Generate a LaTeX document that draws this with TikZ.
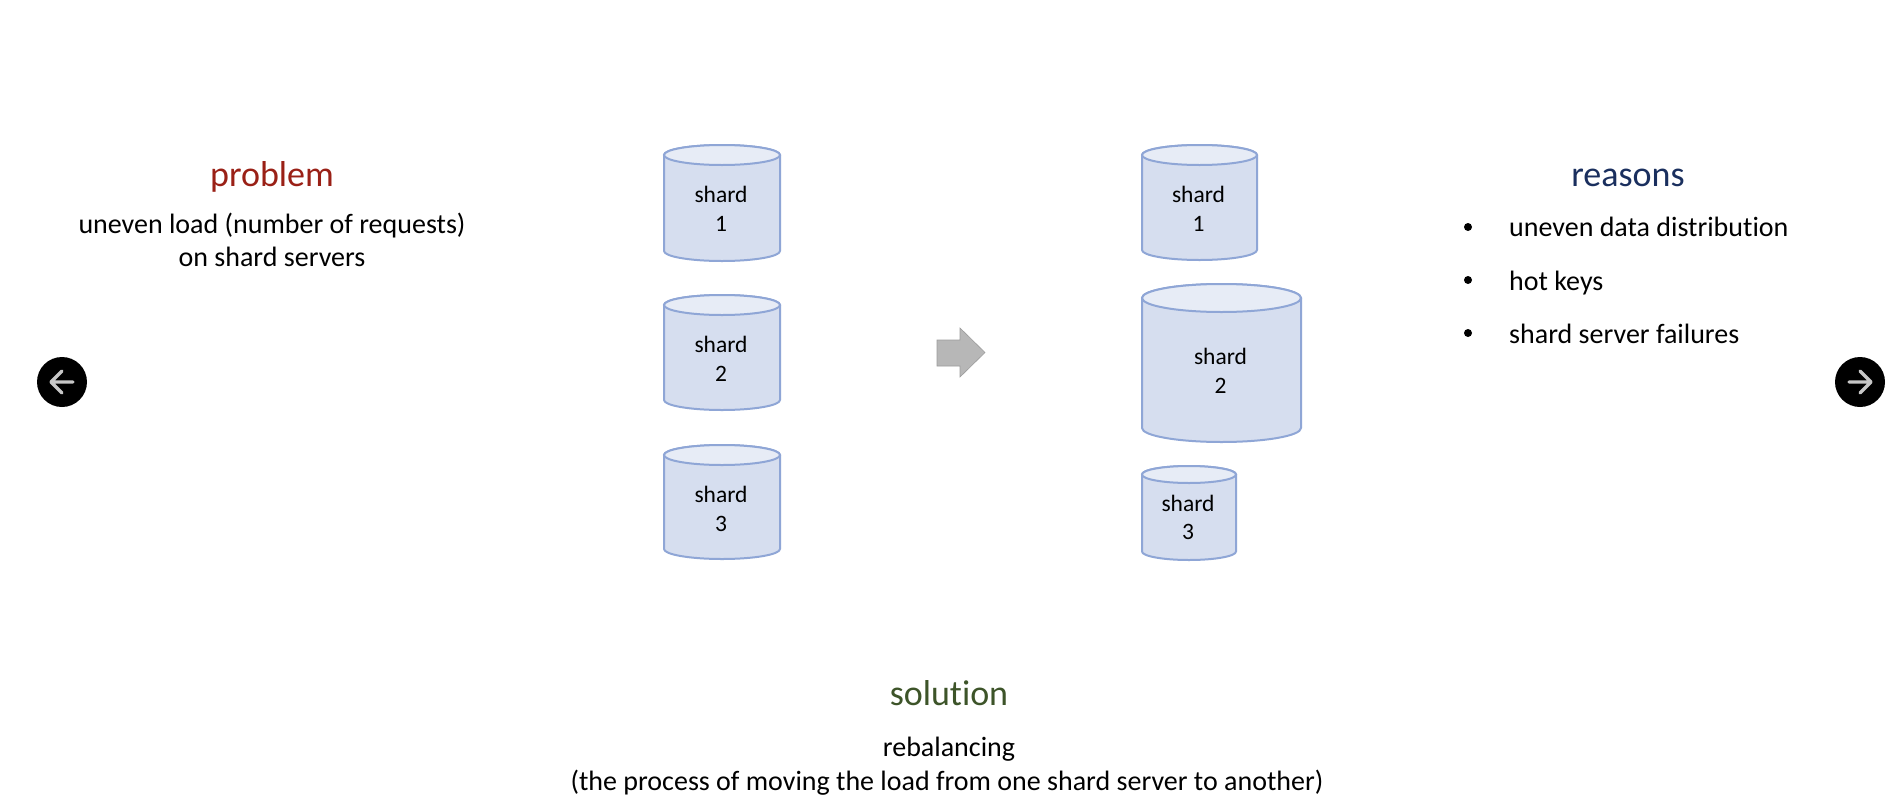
\documentclass[tikz,border=0pt]{standalone}
\usepackage{fontspec}
\setmainfont{Carlito}[Ligatures=CommonOff]
\definecolor{cylbody}{HTML}{D6DEEF}
\definecolor{cyltop}{HTML}{E7ECF6}
\definecolor{cylline}{HTML}{8FA6D6}
\definecolor{probred}{HTML}{9A2016}
\definecolor{reasblue}{HTML}{1A2F5E}
\definecolor{solgreen}{HTML}{3D5429}
\definecolor{arrgray}{HTML}{B7B7B7}
\tikzset{
  cylshape/.style={draw=cylline,line width=2pt,fill=cylbody,line join=round},
  cyltopshape/.style={draw=cylline,line width=2pt,fill=cyltop},
  shardlabel/.style={font=\fontsize{23.5}{29}\selectfont,text=black,anchor=base,inner sep=0pt,xshift=-1pt},
  heading/.style={font=\fontsize{36}{42}\selectfont,anchor=base,inner sep=0pt},
  bodytext/.style={font=\fontsize{28}{34}\selectfont,text=black,anchor=base,inner sep=0pt},
  itemtext/.style={bodytext,anchor=base west},
  dotmark/.style={circle,fill=black,inner sep=0pt,minimum size=8pt},
  navdisc/.style={circle,fill=black,inner sep=0pt,minimum size=50pt},
  navarrow/.style={draw=black!22,line width=3.4pt,line cap=round,line join=round}
}
% name, left, right, top, bottom, ry, base1, base2, number
\newcommand{\shardcyl}[9]{%
  \path[cylshape] (#2,#4+#6) arc[start angle=180,end angle=360,x radius={(#3-#2)/2},y radius=#6]
    -- (#3,#5-#6) arc[start angle=0,end angle=180,x radius={(#3-#2)/2},y radius=#6] -- cycle;
  \path[cyltopshape] ({(#2+#3)/2},#4+#6) ellipse[x radius={(#3-#2)/2},y radius=#6];
  \node[shardlabel] (#1a) at ({(#2+#3)/2},#7) {shard};
  \node[shardlabel] (#1b) at ({(#2+#3)/2},#8) {#9};
}
\begin{document}
\begin{tikzpicture}[x=1pt,y=-1pt]
\useasboundingbox[fill=white] (0,0) rectangle (1901,798);
% left stack
\shardcyl{la}{664}{780}{145}{261}{10}{202}{231}{1}
\shardcyl{lb}{664}{780}{295}{410}{10}{352}{381}{2}
\shardcyl{lc}{664}{780}{445}{559}{10}{502}{531}{3}
% right stack
\shardcyl{ra}{1142}{1257}{145}{260}{10}{202}{231}{1}
\shardcyl{rb}{1142}{1301}{284}{442}{14}{364}{393}{2}
\shardcyl{rc}{1142}{1236}{466}{560}{8.5}{511}{539}{3}
% block arrow
\path[fill=arrgray,draw=arrgray!85!black,line width=.6pt,line join=miter]
  (937,340) -- (960,340) -- (960,328) -- (985,352.5) -- (960,377) -- (960,366) -- (937,366) -- cycle;
% texts
\node[heading,text=probred] (problem) at (272,186) {problem};
\node[bodytext] (p1) at (272,233) {uneven load (number of requests)};
\node[bodytext] (p2) at (272,266) {on shard servers};
\node[heading,text=reasblue] (reasons) at (1628,186) {reasons};
\node[dotmark] (d1) at (1468,227) {};
\node[dotmark] (d2) at (1468,280) {};
\node[dotmark] (d3) at (1468,333) {};
\node[itemtext] (r1) at (1509,236) {uneven data distribution};
\node[itemtext] (r2) at (1509,290) {hot keys};
\node[itemtext] (r3) at (1509,343) {shard server failures};
\node[heading,text=solgreen] (solution) at (949,705) {solution};
\node[bodytext] (s1) at (949,756) {rebalancing};
\node[bodytext] (s2) at (947,790) {(the process of moving the load from one shard server to another)};
% nav buttons
\node[navdisc] (prev) at (62,382) {};
\draw[navarrow] (prev.center) ++(11,0) -- ++(-22,0) ++(11,-11) -- ++(-11,11) -- ++(11,11);
\node[navdisc] (next) at (1860,382) {};
\draw[navarrow] (next.center) ++(-11,0) -- ++(22,0) ++(-11,-11) -- ++(11,11) -- ++(-11,11);
\end{tikzpicture}
\end{document}
